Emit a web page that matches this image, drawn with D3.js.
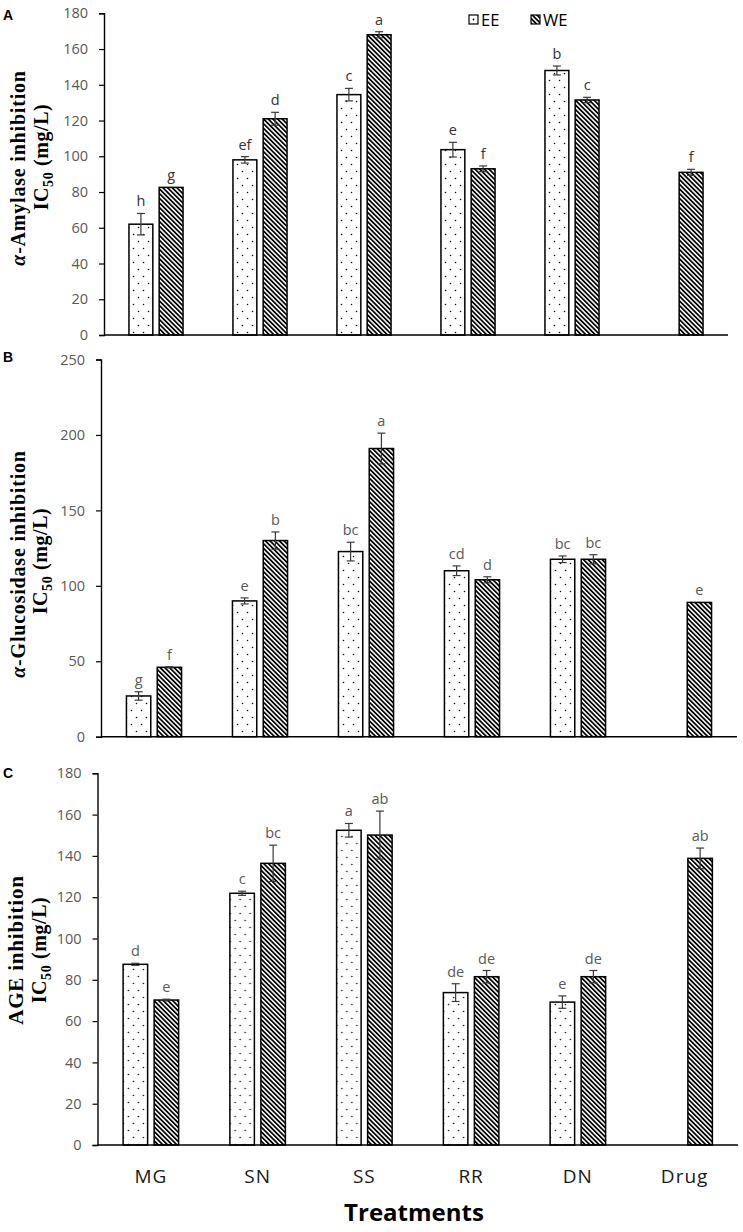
<!DOCTYPE html>
<html>
<head>
<meta charset="utf-8">
<script src="https://cdn.jsdelivr.net/npm/d3@7"></script>
<style>
  html, body { margin: 0; padding: 0; background: #fff; }
  svg { display: block; }
</style>
</head>
<body>
<svg id="chart" width="743" height="1232"></svg>
<script>
// ---------------- DATA ----------------
const categories = ["MG", "SN", "SS", "RR", "DN", "Drug"];
const seriesNames = ["EE", "WE"];

// Panel A: alpha-Amylase inhibition IC50 (mg/L)
const amylaseEE = [62, 98, 134.5, 103.7, 148, null];
const amylaseEEErr = [6, 1.8, 3.5, 4.1, 2.5, null];
const amylaseWE = [82.6, 121, 168, 93, 131.5, 91];
const amylaseWEErr = [0, 3.6, 1.7, 1.6, 1.5, 1.7];
const amylaseEELetters = ["h", "ef", "c", "e", "b", null];
const amylaseWELetters = ["g", "d", "a", "f", "c", "f"];
const amylaseTicks = [0, 20, 40, 60, 80, 100, 120, 140, 160, 180];

// Panel B: alpha-Glucosidase inhibition IC50 (mg/L)
const glucosidaseEE = [27, 90, 122.7, 110, 117.6, null];
const glucosidaseEEErr = [2.8, 2, 6.2, 3.2, 2.2, null];
const glucosidaseWE = [46, 130, 191, 104, 117.6, 89];
const glucosidaseWEErr = [0.4, 5.7, 10.2, 2, 3, 0];
const glucosidaseEELetters = ["g", "e", "bc", "cd", "bc", null];
const glucosidaseWELetters = ["f", "b", "a", "d", "bc", "e"];
const glucosidaseTicks = [0, 50, 100, 150, 200, 250];

// Panel C: AGE inhibition IC50 (mg/L)
const ageEE = [87.5, 121.9, 152.4, 73.8, 69.2, null];
const ageEEErr = [0.5, 1, 3.3, 4.3, 3, null];
const ageWE = [70.2, 136.4, 150.1, 81.5, 81.5, 138.8];
const ageWEErr = [0.4, 8.8, 11.6, 3, 3, 5];
const ageEELetters = ["d", "c", "a", "de", "e", null];
const ageWELetters = ["e", "bc", "ab", "de", "de", "ab"];
const ageTicks = [0, 20, 40, 60, 80, 100, 120, 140, 160, 180];

// ---------------- LAYOUT ----------------
const svg = d3.select("#chart");
const defs = svg.append("defs");

// dotted pattern (EE)
const dots = defs.append("pattern")
  .attr("id", "dots").attr("patternUnits", "userSpaceOnUse")
  .attr("width", 10).attr("height", 14);
dots.append("rect").attr("width", 10).attr("height", 14).attr("fill", "#fff");
dots.append("circle").attr("cx", 2.5).attr("cy", 3.5).attr("r", 0.8).attr("fill", "#111");
dots.append("circle").attr("cx", 7.5).attr("cy", 10.5).attr("r", 0.8).attr("fill", "#111");

// diagonal hatch (WE)
const hatch = defs.append("pattern")
  .attr("id", "hatch").attr("patternUnits", "userSpaceOnUse")
  .attr("width", 3.3).attr("height", 10)
  .attr("patternTransform", "rotate(-45)");
hatch.append("rect").attr("width", 3.3).attr("height", 10).attr("fill", "#fff");
hatch.append("rect").attr("width", 1.75).attr("height", 10).attr("fill", "#000");

const panels = [
  { label: "A", left: 104, right: 728, top: 13.3, bottom: 335, yMax: 180, ticks: amylaseTicks,
    ee: amylaseEE, eeErr: amylaseEEErr, we: amylaseWE, weErr: amylaseWEErr,
    eeL: amylaseEELetters, weL: amylaseWELetters, letterColor: "#333",
    title1: "α-Amylase inhibition", t1x: 25, t1y: 168, t2x: 48, t2y: 157, tsize: 20,
    labelY: 20 },
  { label: "B", left: 101, right: 737, top: 359.5, bottom: 736.7, yMax: 250, ticks: glucosidaseTicks,
    ee: glucosidaseEE, eeErr: glucosidaseEEErr, we: glucosidaseWE, weErr: glucosidaseWEErr,
    eeL: glucosidaseEELetters, weL: glucosidaseWELetters, letterColor: "#595959",
    title1: "α-Glucosidase inhibition", t1x: 25, t1y: 564, t2x: 47, t2y: 561, tsize: 20,
    labelY: 362 },
  { label: "C", left: 97.5, right: 738, top: 773.3, bottom: 1145, yMax: 180, ticks: ageTicks,
    ee: ageEE, eeErr: ageEEErr, we: ageWE, weErr: ageWEErr,
    eeL: ageEELetters, weL: ageWELetters, letterColor: "#595959",
    title1: "AGE inhibition", t1x: 23, t1y: 950, t2x: 46, t2y: 950, tsize: 21,
    labelY: 778 }
];

panels.forEach((p, pi) => {
  const g = svg.append("g");
  const x = d3.scaleBand().domain(categories).range([p.left, p.right]).paddingInner(0).paddingOuter(0);
  const xi = d3.scaleBand().domain(seriesNames)
    .range([-x.bandwidth() * 0.26, x.bandwidth() * 0.26]).paddingInner(0.21);
  const y = d3.scaleLinear().domain([0, p.yMax]).range([p.bottom, p.top]);

  // y axis
  const yAxis = d3.axisLeft(y).tickValues(p.ticks).tickSize(5).tickPadding(11).tickFormat(d3.format("d"));
  const ya = g.append("g").attr("transform", `translate(${p.left},0)`).call(yAxis);
  ya.select(".domain").attr("stroke", "#000").attr("stroke-width", 1.4);
  ya.selectAll(".tick line").attr("stroke", "#000").attr("stroke-width", 1.2);
  ya.selectAll(".tick text").attr("fill", "#595959")
    .style("font-family", "'Open Sans', sans-serif").style("font-size", "14.5px");

  const rows = categories.map((c, i) => ({ cat: c, vals: [
    { s: "EE", v: p.ee[i], e: p.eeErr[i], l: p.eeL[i] },
    { s: "WE", v: p.we[i], e: p.weErr[i], l: p.weL[i] }
  ].filter(d => d.v != null) }));

  const grp = g.selectAll(".grp").data(rows).enter().append("g")
    .attr("transform", d => `translate(${x(d.cat) + x.bandwidth() / 2},0)`);

  const bar = grp.selectAll(".bar").data(d => d.vals).enter().append("g");
  bar.append("rect")
    .attr("x", d => xi(d.s)).attr("width", xi.bandwidth())
    .attr("y", d => y(d.v)).attr("height", d => y(0) - y(d.v))
    .attr("fill", d => d.s === "EE" ? "url(#dots)" : "url(#hatch)")
    .attr("stroke", "#000").attr("stroke-width", 1.5);

  // error bars
  const eb = bar.filter(d => d.e > 0.3).append("g")
    .attr("stroke", "#3a3a3a").attr("stroke-width", 1.2);
  eb.append("line")
    .attr("x1", d => xi(d.s) + xi.bandwidth() / 2).attr("x2", d => xi(d.s) + xi.bandwidth() / 2)
    .attr("y1", d => y(d.v - d.e)).attr("y2", d => y(d.v + d.e));
  eb.append("line")
    .attr("x1", d => xi(d.s) + xi.bandwidth() / 2 - 4).attr("x2", d => xi(d.s) + xi.bandwidth() / 2 + 4)
    .attr("y1", d => y(d.v + d.e)).attr("y2", d => y(d.v + d.e));
  eb.append("line")
    .attr("x1", d => xi(d.s) + xi.bandwidth() / 2 - 4).attr("x2", d => xi(d.s) + xi.bandwidth() / 2 + 4)
    .attr("y1", d => y(d.v - d.e)).attr("y2", d => y(d.v - d.e));

  // significance letters
  bar.append("text")
    .attr("x", d => xi(d.s) + xi.bandwidth() / 2)
    .attr("y", d => y(d.v + d.e) - 7)
    .attr("text-anchor", "middle")
    .attr("fill", p.letterColor)
    .style("font-family", "'Open Sans', sans-serif").style("font-size", "14.5px")
    .text(d => d.l);

  // x axis line
  g.append("line").attr("x1", p.left).attr("x2", p.right)
    .attr("y1", y(0)).attr("y2", y(0)).attr("stroke", "#000").attr("stroke-width", 1.4);

  // panel label
  g.append("text").attr("x", 3).attr("y", p.labelY)
    .style("font-family", "'Liberation Sans', Arial, sans-serif").style("font-weight", "bold")
    .style("font-size", "14px").attr("fill", "#000").text(p.label);

  // y title
  const t1 = g.append("text")
    .attr("transform", `translate(${p.t1x},${p.t1y}) rotate(-90)`)
    .attr("text-anchor", "middle")
    .style("font-family", "'Liberation Serif', 'Times New Roman', serif").style("font-weight", "bold")
    .style("font-size", p.tsize + "px").style("letter-spacing", "0.8px").attr("fill", "#000");
  if (p.title1.startsWith("α")) {
    t1.append("tspan").style("font-style", "italic").text("α");
    t1.append("tspan").text(p.title1.slice(1));
  } else {
    t1.text(p.title1);
  }
  const t2 = g.append("text")
    .attr("transform", `translate(${p.t2x},${p.t2y}) rotate(-90)`)
    .attr("text-anchor", "middle")
    .style("font-family", "'Liberation Serif', 'Times New Roman', serif").style("font-weight", "bold")
    .style("font-size", "20px").style("letter-spacing", "0.6px").attr("fill", "#000");
  t2.append("tspan").text("IC");
  t2.append("tspan").attr("dy", 5).style("font-size", "14px").text("50");
  t2.append("tspan").attr("dy", -5).text(" (mg/L)");

  // category labels only on bottom panel
  if (pi === 2) {
    g.selectAll(".cat").data(categories).enter().append("text")
      .attr("x", d => x(d) + x.bandwidth() / 2)
      .attr("y", 1183)
      .attr("text-anchor", "middle")
      .attr("fill", "#1a1a1a")
      .style("font-family", "'Open Sans', sans-serif").style("font-size", "19px")
      .style("letter-spacing", "1px")
      .text(d => d);
    g.append("text").attr("x", 414).attr("y", 1221).attr("text-anchor", "middle")
      .style("font-family", "'Open Sans', sans-serif").style("font-weight", "bold")
      .style("font-size", "24px").attr("fill", "#000").text("Treatments");
  }
});

// legend (panel A)
const legend = svg.append("g");
const legItems = [
  { s: "EE", x: 469 },
  { s: "WE", x: 531 }
];
const lg = legend.selectAll("g").data(legItems).enter().append("g")
  .attr("transform", d => `translate(${d.x},15)`);
lg.append("rect").attr("width", 9).attr("height", 9)
  .attr("fill", d => d.s === "EE" ? "#fff" : "url(#hatch)")
  .attr("stroke", "#000").attr("stroke-width", 1.2);
lg.filter(d => d.s === "EE").append("circle").attr("cx", 4.5).attr("cy", 4.5).attr("r", 0.9).attr("fill", "#000");
lg.append("text").attr("x", 12).attr("y", 10.5)
  .style("font-family", "'Open Sans', sans-serif").style("font-size", "16.5px")
  .attr("fill", "#000").text(d => d.s);
</script>
</body>
</html>
